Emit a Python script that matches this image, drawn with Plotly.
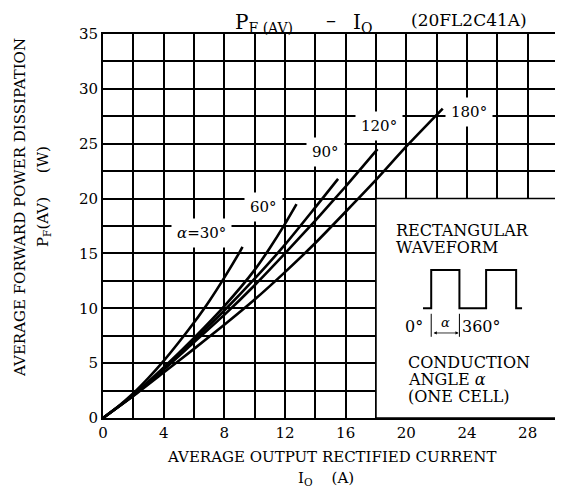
import plotly.graph_objects as go

# ---- data ----
x_30 = [0, 1, 2, 3, 4, 5, 6, 7, 8, 9, 9.2]
y_30 = [0, 1.05, 2.25, 3.65, 5.2, 6.9, 8.7, 10.65, 12.8, 15.1, 15.6]
x_60 = [0, 2, 4, 6, 8, 10, 11, 12, 12.76]
y_60 = [0, 2.1, 4.6, 7.3, 10.2, 13.5, 15.5, 17.7, 19.5]
x_90 = [0, 2, 4, 6, 8, 10, 12, 14, 15.5]
y_90 = [0, 2.05, 4.5, 7.1, 9.8, 12.7, 15.8, 19.2, 21.8]
x_120 = [0, 2, 4, 6, 8, 10, 12, 14, 16, 18.1]
y_120 = [0, 2.05, 4.4, 6.9, 9.4, 12.1, 15.0, 18.0, 21.1, 24.5]
x_180 = [0, 2, 4, 6, 8, 10, 12, 14, 16, 18, 20, 22.4]
y_180 = [0, 2.0, 4.15, 6.3, 8.5, 10.8, 13.3, 15.95, 18.8, 21.7, 24.75, 28.2]

x_grid = [0, 2, 4, 6, 8, 10, 12, 14, 16, 18, 20, 22, 24, 26, 28, 30]
x_labels = ["0", "", "4", "", "8", "", "12", "", "16", "", "20", "", "24", "", "28", ""]
y_grid = [0, 2.5, 5, 7.5, 10, 12.5, 15, 17.5, 20, 22.5, 25, 27.5, 30, 32.5, 35]
y_labels = ["0", "", "5", "", "10", "", "15", "", "20", "", "25", "", "30", "", "35"]

curve_labels = ["<i>α</i>=30°", "60°", "90°", "120°", "180°"]
label_x = [6.5, 10.55, 14.7, 18.2, 24.1]
label_y = [16.9, 19.2, 24.2, 26.6, 27.9]

FONT = "DejaVu Serif"
OFF = 8                      # page body margin
L, T, W, H = 103 - OFF, 34 - OFF, 455, 384
FW, FH = 563 - OFF, 490 - OFF


def px(xp):                  # reference pixel -> paper x
    return (xp - OFF - L) / W


def py(yp):                  # reference pixel -> paper y
    return (T + H - (yp - OFF)) / H


fig = go.Figure()
for xs, ys in [(x_30, y_30), (x_60, y_60), (x_90, y_90), (x_120, y_120), (x_180, y_180)]:
    fig.add_trace(go.Scatter(x=xs, y=ys, mode="lines",
                             line=dict(color="black", width=2.6, shape="spline", smoothing=0.6),
                             showlegend=False, hoverinfo="skip"))

annotations = []
for t, xv, yv in zip(curve_labels, label_x, label_y):
    annotations.append(dict(x=xv, y=yv, xref="x", yref="y", text=t, showarrow=False,
                            xanchor="center", yanchor="middle",
                            bgcolor="white", borderpad=5,
                            font=dict(family=FONT, size=15, color="black")))

# inset box text
box_font = dict(family=FONT, size=16, color="black")
for t, xv, yv in [("RECTANGULAR", 19.2, 17.05), ("WAVEFORM", 19.2, 15.5),
                  ("CONDUCTION", 19.95, 5.05), ("ANGLE <i>α</i>", 19.95, 3.48),
                  ("(ONE CELL)", 19.95, 1.96)]:
    annotations.append(dict(x=xv, y=yv, xref="x", yref="y", text=t, showarrow=False,
                            xanchor="left", yanchor="middle", font=box_font))
annotations.append(dict(x=21.25, y=8.3, xref="x", yref="y", text="0°", showarrow=False,
                        xanchor="right", yanchor="middle", font=box_font))
annotations.append(dict(x=23.55, y=8.3, xref="x", yref="y", text="360°", showarrow=False,
                        xanchor="left", yanchor="middle", font=box_font))
annotations.append(dict(x=22.55, y=8.75, xref="x", yref="y", text="<i>α</i>", showarrow=False,
                        xanchor="center", yanchor="middle",
                        font=dict(family=FONT, size=13, color="black")))
annotations.append(dict(x=23.45, y=7.75, ax=21.7, ay=7.75, xref="x", yref="y",
                        axref="x", ayref="y", text="", showarrow=True,
                        arrowhead=2, arrowside="end+start", arrowsize=0.8,
                        arrowwidth=0.8, arrowcolor="black"))


def paper_text(text, x, y, size, xanchor="center", angle=0):
    return dict(x=px(x), y=py(y), xref="paper", yref="paper", text=text,
                showarrow=False, xanchor=xanchor, yanchor="middle", textangle=angle,
                font=dict(family=FONT, size=size, color="black"))


# title
annotations.append(paper_text("P<sub>F (AV)</sub>", 233, 23, 20, "left"))
annotations.append(paper_text("–", 331, 20, 20))
annotations.append(paper_text("I<sub>O</sub>", 351, 23, 20, "left"))
annotations.append(paper_text("(20FL2C41A)", 409, 20, 17, "left"))
# axis titles
annotations.append(paper_text("AVERAGE OUTPUT RECTIFIED CURRENT", 331, 457, 15))
annotations.append(paper_text("I<sub>O</sub>    (A)", 326, 478, 15))
annotations.append(paper_text("AVERAGE FORWARD POWER DISSIPATION", 20, 208, 15, angle=-90))
annotations.append(paper_text("P<sub>F</sub>(AV)     (W)", 43, 197, 15, angle=-90))

shapes = [
    dict(type="rect", xref="x", yref="y", x0=18, x1=30, y0=0, y1=20,
         fillcolor="white", line=dict(color="black", width=1.5), layer="above"),
    dict(type="path", xref="x", yref="y",
         path="M 21.1 10 L 21.64 10 L 21.64 13.5 L 23.5 13.5 L 23.5 10 L 25.26 10 "
              "L 25.26 13.5 L 27.24 13.5 L 27.24 10 L 27.63 10",
         line=dict(color="black", width=2), layer="above"),
    dict(type="line", xref="x", yref="y", x0=21.64, x1=21.64, y0=7.4, y1=9.5,
         line=dict(color="black", width=1), layer="above"),
    dict(type="line", xref="x", yref="y", x0=23.5, x1=23.5, y0=7.4, y1=9.5,
         line=dict(color="black", width=1), layer="above"),
]

fig.update_layout(
    width=FW, height=FH,
    margin=dict(l=L, r=FW - L - W, t=T, b=FH - T - H, autoexpand=False),
    paper_bgcolor="white", plot_bgcolor="white",
    showlegend=False,
    annotations=annotations, shapes=shapes,
    font=dict(family=FONT, size=14, color="black"),
    xaxis=dict(range=[0, 30], tickmode="array", tickvals=x_grid, ticktext=x_labels,
               showgrid=True, gridcolor="black", gridwidth=1.5, zeroline=False,
               showline=True, linecolor="black", linewidth=2, mirror=True,
               ticks="", automargin=False,
               tickfont=dict(family=FONT, size=15, color="black")),
    yaxis=dict(range=[0, 35], tickmode="array", tickvals=y_grid, ticktext=y_labels,
               showgrid=True, gridcolor="black", gridwidth=1.5, zeroline=False,
               showline=True, linecolor="black", linewidth=2, mirror=True,
               ticks="", automargin=False,
               tickfont=dict(family=FONT, size=15, color="black")),
)

fig.write_html("out.html")
